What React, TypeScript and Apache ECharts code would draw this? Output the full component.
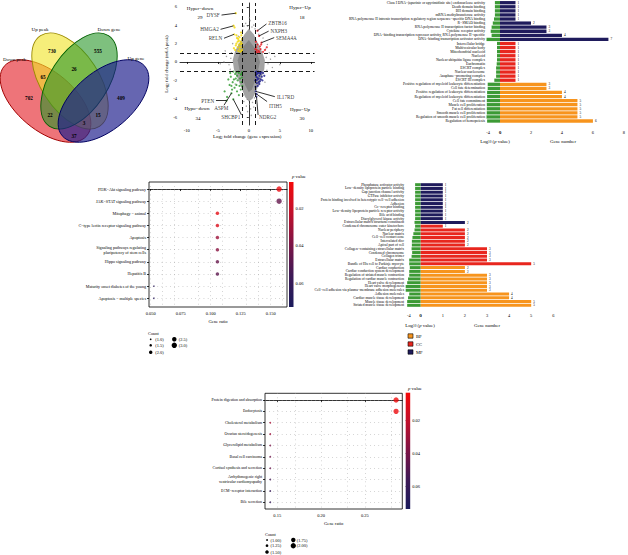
import React, { useEffect, useRef } from "react";
import * as echarts from "echarts";

const FONT = "Liberation Serif";

// ================= Panel A: Venn =================
const vennSetNames = ["Down peak", "Up peak", "Down gene", "Up gene"];
const vennRegionCounts = [702, 730, 555, 409, 65, 26, 15, 22, 3, 37];

// ================= Panel B: volcano =================
const volcanoXTicks = [-10, -5, 0, 5, 10];
const volcanoYTicks = [-6, -4, -2, 0, 2, 4, 6];
const quadrantNames = ["Hyper−down", "Hyper−Up", "Hypo−down", "Hypo−Up"];
const quadrantCounts = [29, 18, 34, 30];
const cloudOuter = [
  [0, 3.6], [0.8, 3.0], [1.5, 2.0], [2.2, 1.0], [2.6, 0.2], [2.5, -0.8], [2.0, -1.8], [1.3, -3.0],
  [0.6, -4.0], [0, -4.3], [-0.6, -3.8], [-1.2, -2.8], [-1.8, -1.8], [-2.4, -0.8], [-2.6, 0.2],
  [-2.2, 1.2], [-1.4, 2.2], [-0.7, 3.0],
];
const cloudInner = [
  [0, 2.4], [1.2, 1.3], [1.8, 0], [1.3, -1.5], [0.5, -3.0], [0, -3.3], [-0.6, -2.5], [-1.4, -1.2],
  [-1.8, 0.2], [-1.2, 1.4],
];
const grayPoints = [
  [0.2, 4.5], [-0.5, 4.2], [0.8, 4.0], [-0.2, 3.9], [1.0, 3.6], [-1.0, 3.5], [0.5, 3.8], [-0.8, 3.9], [0.1, 4.8],
  [2.8, 0.5], [3.1, -0.2], [3.5, 0.3], [2.9, -0.9], [3.3, 1.0], [4.2, 0.6], [5.0, -0.3], [3.8, -0.6], [2.7, 1.4], [3.0, 1.9],
  [-2.9, 0.4], [-3.2, -0.3], [-3.6, 0.6], [-2.8, 1.0], [-4.0, 0.0], [-3.0, -0.8], [-3.8, 1.2], [-4.6, -0.2],
  [0.1, -4.6], [-0.4, -4.8], [0.6, -4.4], [-0.8, -4.3], [0.3, -5.1], [-0.2, -5.4], [0.8, -4.9], [-1.0, -5.0],
  [0.9, -3.9], [-0.9, -3.6], [0.4, -5.8], [2.3, 2.6], [-2.6, 2.0], [2.6, -2.2], [-2.2, -2.4], [1.6, 3.0], [-1.7, 2.8],
];
const hyperDown = [
  [-2.1, 5.3], [-2.45, 3.95], [-2.3, 3.75], [-2.35, 3.0], [-1.2, 1.2], [-1.5, 1.4], [-1.8, 1.6], [-1.3, 1.9],
  [-2.0, 2.0], [-1.6, 2.3], [-1.1, 2.5], [-2.2, 1.3], [-1.4, 1.1], [-1.9, 2.6], [-1.2, 2.9], [-1.7, 1.2],
  [-2.1, 1.8], [-1.05, 1.6], [-1.3, 2.2], [-1.6, 1.9], [-2.4, 1.5], [-1.8, 2.2], [-1.1, 1.3], [-1.5, 2.7],
  [-1.25, 3.2], [-2.0, 2.9], [-1.4, 1.6], [-1.7, 2.5], [-1.15, 2.0],
];
const hyperUp = [
  [1.4, 3.4], [1.66, 2.83], [2.04, 2.1], [1.1, 1.1], [1.3, 1.3], [1.6, 1.2], [1.9, 1.4], [1.2, 1.6], [2.3, 1.1],
  [1.4, 1.9], [1.8, 1.7], [2.6, 1.3], [1.15, 2.2], [1.7, 1.05], [2.0, 1.9], [1.35, 1.05], [2.9, 1.6], [1.05, 1.4],
];
const hypoDown = [
  [-1.1, -1.1], [-1.3, -1.4], [-1.6, -1.2], [-1.9, -1.5], [-2.2, -1.3], [-1.4, -1.8], [-1.8, -2.0], [-2.4, -1.9],
  [-1.2, -2.2], [-2.0, -2.5], [-2.6, -2.2], [-1.5, -2.6], [-2.9, -1.6], [-1.7, -1.05], [-2.3, -2.8], [-1.1, -1.7],
  [-3.1, -2.5], [-2.7, -3.0], [-1.9, -3.2], [-3.9, -3.2], [-1.3, -3.0], [-2.5, -1.05], [-3.3, -1.9], [-1.05, -2.6],
  [-2.1, -1.8], [-1.6, -3.6], [-2.8, -2.6], [-3.5, -3.8], [-2.8, -3.4], [-3.6, -4.2], [-2.5, -4.05], [-1.2, -1.3],
  [-2.0, -1.1], [-3.0, -1.2],
];
const hypoUp = [
  [1.1, -1.1], [1.3, -1.3], [1.5, -1.2], [1.7, -1.5], [1.2, -1.6], [1.9, -1.3], [1.4, -1.9], [1.6, -1.8],
  [2.1, -1.6], [1.05, -2.0], [1.8, -2.1], [1.3, -2.3], [2.3, -1.2], [1.15, -1.4], [1.55, -1.05], [1.95, -1.9],
  [1.25, -1.05], [1.7, -2.4], [1.45, -2.6], [2.0, -1.1], [1.1, -2.7], [1.35, -1.7], [1.8, -1.2], [2.5, -1.5],
  [1.6, -2.2], [1.2, -2.0], [1.13, -3.2], [1.24, -3.48], [1.24, -3.77], [2.2, -2.0],
];
// gene annotations: text anchor (tx,ty), label side, leader line (x1,y1)->(x2,y2)
const geneNames = ["DYSF", "HMGA2", "RELN", "ZBTB16", "NXPH3", "SEMA4A", "PTEN", "ASPM", "SHCBP1", "IL17RD", "ITIH5", "NDRG2"];
const geneTextAnchor = [
  [-4.45, 5.1], [-4.6, 3.55], [-4.05, 2.58], [2.9, 4.2], [3.25, 3.35], [4.15, 2.65],
  [-5.35, -4.2], [-4.44, -5.05], [-1.13, -5.95], [4.3, -3.77], [3.0, -4.8], [1.4, -5.95],
];
const genePos = ["left", "left", "left", "right", "right", "right", "left", "inside", "left", "right", "right", "right"];
const geneLines = [
  [-4.4, 5.1, -2.1, 5.3], [-4.56, 3.55, -2.5, 3.92], [-4.0, 2.58, -2.4, 3.0], [2.85, 4.13, 1.4, 3.4],
  [3.2, 3.35, 1.66, 2.83], [4.1, 2.65, 2.04, 2.1], [-5.3, -4.2, -3.6, -4.2], [-4.0, -4.7, -2.8, -3.4],
  [-1.18, -5.76, -2.5, -4.06], [4.2, -3.77, 1.13, -3.2], [2.95, -4.3, 1.24, -3.48], [1.5, -5.76, 1.24, -3.77],
];

// ================= Panel C: GO (top) =================
const goTopTerms = [
  "Class I DNA−(apurinic or apyrimidinic site) endonuclease activity",
  "Death domain binding",
  "BH domain binding",
  "mRNA methyltransferase activity",
  "RNA polymerase II intronic transcription regulatory region sequence−specific DNA binding",
  "R−SMAD binding",
  "RNA polymerase II transcription factor binding",
  "Cytokine receptor activity",
  "DNA−binding transcription repressor activity, RNA polymerase II−specific",
  "DNA−binding transcription activator activity",
  "Intercellular bridge",
  "Multivesicular body",
  "Mitochondrial nucleoid",
  "Nucleoid",
  "Nuclear ubiquitin ligase complex",
  "Euchromatin",
  "ESCRT complex",
  "Nuclear nucleosome",
  "Anaphase−promoting complex",
  "ESCRT III complex",
  "Positive regulation of myeloid leukocyte differentiation",
  "Cell fate determination",
  "Positive regulation of leukocyte differentiation",
  "Regulation of myeloid leukocyte differentiation",
  "Cell fate commitment",
  "Muscle cell proliferation",
  "Fat cell differentiation",
  "Smooth muscle cell proliferation",
  "Regulation of smooth muscle cell proliferation",
  "Regulation of hemopoiesis",
];
const goTopCats = [
  "MF", "MF", "MF", "MF", "MF", "MF", "MF", "MF", "MF", "MF",
  "CC", "CC", "CC", "CC", "CC", "CC", "CC", "CC", "CC", "CC",
  "BP", "BP", "BP", "BP", "BP", "BP", "BP", "BP", "BP", "BP",
];
const goTopCounts = [1, 1, 1, 1, 1, 2, 3, 3, 4, 7, 1, 1, 1, 1, 1, 1, 1, 1, 1, 1, 3, 3, 4, 4, 5, 5, 5, 5, 5, 6];
const goTopLogP = [
  -1.7, -1.7, -1.7, -1.7, -2.0, -2.4, -2.8, -3.1, -2.8, -4.5,
  -1.0, -1.0, -1.0, -1.0, -1.0, -1.1, -1.3, -1.3, -1.3, -1.9,
  -4.1, -4.1, -4.3, -4.3, -4.4, -4.4, -4.4, -4.4, -4.5, -4.3,
];
const goTopLogTicks = [-4, 0];

// ================= Panel D: KEGG dot plot (middle) =================
const keggMidTerms = [
  "PI3K−Akt signaling pathway",
  "JAK−STAT signaling pathway",
  "Mitophagy − animal",
  "C−type lectin receptor signaling pathway",
  "Apoptosis",
  "Signaling pathways regulating\npluripotency of stem cells",
  "Hippo signaling pathway",
  "Hepatitis B",
  "Maturity onset diabetes of the young",
  "Apoptosis − multiple species",
];
const keggMidRatio = [0.157, 0.157, 0.1056, 0.1056, 0.1056, 0.1056, 0.1056, 0.1056, 0.0526, 0.0526];
const keggMidCount = [3, 3, 2, 2, 2, 2, 2, 2, 1, 1];
const keggMidP = [0.009, 0.046, 0.011, 0.014, 0.031, 0.036, 0.045, 0.048, 0.065, 0.066];
const keggMidXTicks = [0.05, 0.075, 0.1, 0.125, 0.15];
const keggMidPTicks = [0.02, 0.04, 0.06];
const keggMidLegendCounts = [1.0, 1.5, 2.0, 2.5, 3.0];

// ================= Panel E: GO (middle) =================
const goMidTerms = [
  "Phosphatase activator activity",
  "Low−density lipoprotein particle binding",
  "Gap junction channel activity",
  "GTPase inhibitor activity",
  "Protein binding involved in heterotypic cell−cell adhesion",
  "Adhesion",
  "Co−receptor binding",
  "Low−density lipoprotein particle receptor activity",
  "Bile acid binding",
  "Diacylglycerol kinase activity",
  "Extracellular matrix structural constituent",
  "Condensed chromosome outer kinetochore",
  "Nuclear periphery",
  "Nuclear matrix",
  "Cell−cell contact zone",
  "Intercalated disc",
  "Apical part of cell",
  "Collagen−containing extracellular matrix",
  "Condensed chromosome",
  "Collagen trimer",
  "Extracellular matrix",
  "Bundle of His cell to Purkinje myocyte",
  "Cardiac conduction",
  "Cardiac conduction system development",
  "Regulation of striated muscle contraction",
  "Regulation of cardiac muscle contraction",
  "Heart valve development",
  "Heart valve morphogenesis",
  "Cell−cell adhesion via plasma−membrane adhesion molecules",
  "Adhesion molecules",
  "Cardiac muscle tissue development",
  "Muscle tissue development",
  "Striated muscle tissue development",
];
const goMidCats = [
  "MF", "MF", "MF", "MF", "MF", "MF", "MF", "MF", "MF", "MF", "MF",
  "CC", "CC", "CC", "CC", "CC", "CC", "CC", "CC", "CC", "CC", "CC",
  "BP", "BP", "BP", "BP", "BP", "BP", "BP", "BP", "BP", "BP", "BP",
];
const goMidCounts = [1, 1, 1, 1, 1, 1, 1, 1, 1, 1, 2, 1, 2, 2, 2, 2, 2, 3, 3, 3, 3, 5, 2, 2, 3, 3, 3, 3, 3, 4, 4, 5, 5];
const goMidLogP = [
  -1.9, -1.9, -1.9, -1.9, -1.9, -1.9, -1.9, -1.9, -1.9, -1.9, -2.1,
  -1.9, -2.1, -2.5, -2.8, -3.0, -3.0, -3.1, -2.9, -3.1, -3.9, -3.9,
  -3.7, -3.9, -3.9, -4.3, -4.6, -5.1, -5.1, -3.9, -4.3, -4.6, -4.6,
];
const goMidLogTicks = [-4, 0];
const goLegendCats = ["BP", "CC", "MF"];

// ================= Panel F: KEGG dot plot (bottom) =================
const keggBotTerms = [
  "Protein digestion and absorption",
  "Endocytosis",
  "Cholesterol metabolism",
  "Ovarian steroidogenesis",
  "Glycerolipid metabolism",
  "Basal cell carcinoma",
  "Cortisol synthesis and secretion",
  "Arrhythmogenic right\nventricular cardiomyopathy",
  "ECM−receptor interaction",
  "Bile secretion",
];
const keggBotRatio = [0.2856, 0.2856, 0.142, 0.142, 0.142, 0.142, 0.142, 0.142, 0.142, 0.142];
const keggBotCount = [2, 2, 1, 1, 1, 1, 1, 1, 1, 1];
const keggBotP = [0.005, 0.006, 0.028, 0.031, 0.040, 0.043, 0.045, 0.055, 0.060, 0.062];
const keggBotXTicks = [0.15, 0.2, 0.25];
const keggBotPTicks = [0.02, 0.04, 0.06];
const keggBotLegendCounts = [1.0, 1.25, 1.5, 1.75, 2.0];

// ================= styling =================
const catColor: Record<string, string> = { BP: "#f7941d", CC: "#e8261e", MF: "#1f1b5c" };
const greenBar = "#3c9a35";
const pColors = ["#f40a0a", "#c0102c", "#7c1446", "#3e1a56", "#1b1b5c"];

function txt(size: number, extra: any = {}) {
  return { fontFamily: FONT, fontSize: size, color: "#000", ...extra };
}
function gText(x: number, y: number, text: string, size: number, extra: any = {}) {
  return {
    type: "text",
    x,
    y,
    silent: true,
    style: {
      text,
      fontFamily: FONT,
      fontSize: size,
      fill: "#000",
      textAlign: extra.align || "center",
      textVerticalAlign: "middle",
      align: extra.align || "center",
      verticalAlign: "middle",
      fontWeight: extra.weight || "normal",
      rich: extra.rich,
    },
  };
}
const subRich = (size: number) => ({
  s: { fontFamily: FONT, fontSize: size * 0.7, padding: [size * 0.55, 0, 0, 0] },
  i: { fontFamily: FONT, fontSize: size, fontStyle: "italic" },
});

function midSize(c: number) {
  return 1.6 + (c - 1) * 1.9;
}
function botSize(c: number) {
  return 1.8 + (c - 1) * 3.5;
}

function buildOption() {
  const grid: any[] = [];
  const xAxis: any[] = [];
  const yAxis: any[] = [];
  const series: any[] = [];
  const graphic: any[] = [];
  const visualMap: any[] = [];

  // ---------- Venn ----------
  const vennLayout = [
    { x: 45.5, y: 101, rot: -0.7, fill: "rgba(228,30,38,0.62)", stroke: "#a00000" },
    { x: 70, y: 81, rot: -0.995, fill: "rgba(240,228,40,0.62)", stroke: "#9a8a00" },
    { x: 79, y: 81, rot: 0.995, fill: "rgba(40,150,40,0.6)", stroke: "#006000" },
    { x: 103.5, y: 101, rot: 0.7, fill: "rgba(30,30,140,0.68)", stroke: "#000060" },
  ];
  vennLayout.forEach((e) => {
    graphic.push({
      type: "ellipse",
      x: e.x,
      y: e.y,
      rotation: e.rot,
      silent: true,
      shape: { cx: 0, cy: 0, rx: 54, ry: 29 },
      style: { fill: e.fill, stroke: e.stroke, lineWidth: 0.9 },
    });
  });
  const vennLabelPos = [[14.5, 59], [40, 29], [109, 29], [136, 58]];
  vennSetNames.forEach((n, i) => graphic.push(gText(vennLabelPos[i][0], vennLabelPos[i][1], n, 5)));
  const vennCountPos = [[29, 98], [52, 51], [98, 51], [121, 98], [43, 77], [74, 69], [98, 115], [50, 115], [84, 123], [74, 136]];
  vennRegionCounts.forEach((c, i) =>
    graphic.push(gText(vennCountPos[i][0], vennCountPos[i][1], String(c), 5.2, { weight: "bold" }))
  );

  // ---------- Volcano (grid 0) ----------
  grid.push({ left: 180, top: 3, width: 134.5, height: 122 });
  xAxis.push({
    gridIndex: 0, type: "value", min: -11.1, max: 10.6,
    axisLine: { lineStyle: { color: "#000", width: 0.8 } },
    axisTick: { customValues: volcanoXTicks, length: 2, lineStyle: { color: "#000", width: 0.8 } },
    axisLabel: { customValues: volcanoXTicks, ...txt(4.6), margin: 3 },
    splitLine: { show: false },
    name: "Log{s|2} fold change (gene expression)",
    nameLocation: "middle", nameGap: 9,
    nameTextStyle: { ...txt(4.8), rich: subRich(4.8) },
  });
  yAxis.push({
    gridIndex: 0, type: "value", min: -6.85, max: 6.41,
    axisLine: { lineStyle: { color: "#000", width: 0.8 } },
    axisTick: { customValues: volcanoYTicks, length: 2, lineStyle: { color: "#000", width: 0.8 } },
    axisLabel: { customValues: volcanoYTicks, ...txt(4.6), margin: 3 },
    splitLine: { show: false },
    name: "Log{s|2} fold change (m6A peak)",
    nameLocation: "middle", nameGap: 11, nameRotate: 90,
    nameTextStyle: { ...txt(4.8), rich: subRich(4.8) },
  });
  series.push({
    type: "custom", xAxisIndex: 0, yAxisIndex: 0, data: [[0, 0]], silent: true, z: 1,
    renderItem: (_p: any, api: any) => ({
      type: "group",
      children: [
        { type: "polygon", shape: { points: cloudOuter.map((p) => api.coord(p)) }, style: { fill: "#a3a3a3" } },
        { type: "polygon", shape: { points: cloudInner.map((p) => api.coord(p)) }, style: { fill: "#858585" } },
      ],
    }),
  });
  series.push({
    type: "scatter", xAxisIndex: 0, yAxisIndex: 0, data: grayPoints, symbolSize: 1.4, z: 2,
    itemStyle: { color: "#8a8a8a" }, silent: true,
    markLine: {
      silent: true, symbol: ["none", "none"], label: { show: false },
      lineStyle: { color: "#000", width: 0.9, type: [4, 3] },
      data: [{ xAxis: -1 }, { xAxis: 1 }, { yAxis: -1 }, { yAxis: 1 }],
    },
  });
  const volGroups: [number[][], string][] = [
    [hyperDown, "#f2d600"], [hyperUp, "#e8141c"], [hypoDown, "#2e9a2e"], [hypoUp, "#1a1a8c"],
  ];
  volGroups.forEach(([d, c]) =>
    series.push({ type: "scatter", xAxisIndex: 0, yAxisIndex: 0, data: d, symbolSize: 2.2, z: 3, itemStyle: { color: c }, silent: true })
  );
  series.push({
    type: "lines", coordinateSystem: "cartesian2d", xAxisIndex: 0, yAxisIndex: 0, silent: true, z: 4,
    lineStyle: { color: "#000", width: 0.8, opacity: 1 },
    data: geneLines.map((l) => ({ coords: [[l[0], l[1]], [l[2], l[3]]] })),
  });
  series.push({
    type: "scatter", xAxisIndex: 0, yAxisIndex: 0, silent: true, z: 5, symbolSize: 1,
    itemStyle: { color: "rgba(0,0,0,0)" },
    data: geneNames.map((n, i) => ({
      name: n, value: geneTextAnchor[i],
      label: { show: true, position: genePos[i], distance: 1, formatter: "{b}", ...txt(5.2) },
    })),
  });
  const qPos = [[200, 8, 200, 17], [300, 7, 302, 17], [197, 108, 198, 118], [300, 109, 302, 118]];
  quadrantNames.forEach((n, i) => {
    graphic.push(gText(qPos[i][0], qPos[i][1], n, 5));
    graphic.push(gText(qPos[i][2], qPos[i][3], String(quadrantCounts[i]), 5));
  });

  // ---------- GO top (grids 1,2) ----------
  const topTop = 0.66, topH = 122.4;
  grid.push({ left: 486.5, top: topTop, width: 13.5, height: topH });
  grid.push({ left: 500, top: topTop, width: 126.4, height: topH });
  xAxis.push({
    gridIndex: 1, type: "value", min: -4.5, max: 0, offset: 2,
    axisLine: { lineStyle: { color: "#000", width: 0.8 } },
    axisTick: { customValues: goTopLogTicks, length: 3, lineStyle: { color: "#000", width: 0.8 } },
    axisLabel: { customValues: goTopLogTicks, ...txt(4.4), margin: 5 },
    splitLine: { show: false },
  });
  xAxis.push({
    gridIndex: 2, type: "value", min: 0, max: 8, interval: 2, offset: 2,
    axisLine: { lineStyle: { color: "#000", width: 0.8 } },
    axisTick: { length: 3, lineStyle: { color: "#000", width: 0.8 } },
    axisLabel: { ...txt(4.4), margin: 5 },
    splitLine: { show: false },
  });
  yAxis.push({
    gridIndex: 1, type: "category", inverse: true, data: goTopTerms,
    axisLine: { show: false }, axisTick: { show: false },
    axisLabel: { ...txt(3.7), margin: 1.5, interval: 0 },
  });
  yAxis.push({
    gridIndex: 2, type: "category", inverse: true, data: goTopTerms,
    axisLine: { show: false }, axisTick: { show: false }, axisLabel: { show: false },
  });
  series.push({
    type: "bar", xAxisIndex: 1, yAxisIndex: 1, data: goTopLogP, barWidth: 3.3, silent: true,
    itemStyle: { color: greenBar },
  });
  series.push({
    type: "bar", xAxisIndex: 2, yAxisIndex: 2, barWidth: 3.3, silent: true,
    data: goTopCounts.map((v, i) => ({ value: v, itemStyle: { color: catColor[goTopCats[i]] } })),
    label: { show: true, position: "right", distance: 2, ...txt(3.4) },
  });
  graphic.push(gText(495, 141, "Log{s|10} ({i|p} value)", 4.8, { rich: subRich(4.8) }));
  graphic.push(gText(563, 141, "Gene number", 4.8));

  // ---------- KEGG middle dot plot (grid 3) + colorbar (grid 4) ----------
  grid.push({ left: 149, top: 182, width: 138, height: 125, show: true, borderColor: "#000", borderWidth: 0.8, backgroundColor: "transparent" });
  xAxis.push({
    gridIndex: 3, type: "value", min: 0.04858, max: 0.16358,
    axisLine: { lineStyle: { color: "#000", width: 0.8 } },
    axisTick: { customValues: keggMidXTicks, length: 2, lineStyle: { color: "#000", width: 0.8 } },
    axisLabel: { customValues: keggMidXTicks, formatter: (v: number) => v.toFixed(3), ...txt(4.5), margin: 4 },
    splitLine: { show: false },
    name: "Gene ratio", nameLocation: "middle", nameGap: 11.5, nameTextStyle: txt(4.6),
  });
  const midRows = keggMidTerms.map((_, i) => i);
  yAxis.push({
    gridIndex: 3, type: "value", inverse: true, min: -0.58, max: 9.72,
    axisLine: { show: false },
    axisTick: { show: true, customValues: midRows, length: 2, lineStyle: { color: "#000", width: 0.8 } },
    axisLabel: { customValues: midRows, formatter: (v: number) => keggMidTerms[Math.round(v)], ...txt(4.1), lineHeight: 4.6, margin: 3 },
    splitLine: { show: false },
  });
  const midMinor: number[] = [0.05, 0.0625, 0.075, 0.0875, 0.1, 0.1125, 0.125, 0.1375, 0.15, 0.1625];
  const midDotIndex = series.length;
  series.push({
    type: "scatter", xAxisIndex: 3, yAxisIndex: 3, silent: true, z: 3,
    data: keggMidTerms.map((_, i) => [keggMidRatio[i], i, keggMidCount[i], keggMidP[i]]),
    symbolSize: (v: number[]) => midSize(v[2]),
    markLine: {
      silent: true, symbol: ["none", "none"], label: { show: false }, z: 1,
      lineStyle: { color: "#9a9a9a", width: 0.6, type: [0.7, 3.5] },
      data: [...midRows.map((r) => ({ yAxis: r })), ...midMinor.map((x) => ({ xAxis: x }))],
    },
  });
  visualMap.push({
    type: "continuous", show: false, seriesIndex: midDotIndex, dimension: 3,
    min: 0.0061, max: 0.0728, inRange: { color: pColors },
  });
  grid.push({ left: 289, top: 182, width: 4.5, height: 125 });
  xAxis.push({ gridIndex: 4, type: "value", min: 0, max: 1, show: false });
  yAxis.push({
    gridIndex: 4, type: "value", position: "right", inverse: true, min: 0.0061, max: 0.0728,
    axisLine: { show: false },
    axisTick: { customValues: keggMidPTicks, length: 2, lineStyle: { color: "#000", width: 0.8 } },
    axisLabel: { customValues: keggMidPTicks, formatter: (v: number) => v.toFixed(2), ...txt(4.5), margin: 2 },
    splitLine: { show: false },
  });
  const cbRender = (_p: any, api: any) => {
    const cs = _p.coordSys;
    return {
      type: "rect",
      shape: { x: cs.x, y: cs.y, width: cs.width, height: cs.height },
      style: {
        fill: new echarts.graphic.LinearGradient(0, 0, 0, 1,
          pColors.map((c, i) => ({ offset: i / (pColors.length - 1), color: c }))),
      },
    };
  };
  series.push({ type: "custom", xAxisIndex: 4, yAxisIndex: 4, data: [[0.5, 0.04]], silent: true, renderItem: cbRender });
  graphic.push(gText(299, 176, "{i|p} value", 4.8, { rich: subRich(4.8) }));
  // Count legend (middle)
  graphic.push(gText(148, 333, "Count", 4.4, { align: "left" }));
  const midLegPos = [[150.7, 339.3], [150.7, 345.3], [150.7, 352.3], [174.3, 339.3], [174.3, 345.3]];
  keggMidLegendCounts.forEach((c, i) => {
    graphic.push({ type: "circle", x: midLegPos[i][0], y: midLegPos[i][1], silent: true, shape: { r: midSize(c) / 2 }, style: { fill: "#000" } });
    graphic.push(gText(midLegPos[i][0] + 4.5, midLegPos[i][1], "(" + c.toFixed(1) + ")", 4.4, { align: "left" }));
  });

  // ---------- GO middle (grids 5,6) ----------
  const midTop = 182.8, midH = 124.4;
  grid.push({ left: 405.1, top: midTop, width: 15.6, height: midH });
  grid.push({ left: 420.7, top: midTop, width: 132.6, height: midH });
  xAxis.push({
    gridIndex: 5, type: "value", min: -5.3, max: 0, offset: 2,
    axisLine: { lineStyle: { color: "#000", width: 0.8 } },
    axisTick: { customValues: goMidLogTicks, length: 2.5, lineStyle: { color: "#000", width: 0.8 } },
    axisLabel: { customValues: goMidLogTicks, ...txt(4.4), margin: 4 },
    splitLine: { show: false },
  });
  xAxis.push({
    gridIndex: 6, type: "value", min: 0, max: 6, interval: 1, offset: 2,
    axisLine: { lineStyle: { color: "#000", width: 0.8 } },
    axisTick: { length: 2.5, lineStyle: { color: "#000", width: 0.8 } },
    axisLabel: { ...txt(4.4), margin: 4 },
    splitLine: { show: false },
  });
  yAxis.push({
    gridIndex: 5, type: "category", inverse: true, data: goMidTerms,
    axisLine: { show: false }, axisTick: { show: false },
    axisLabel: { ...txt(3.6), margin: 1, interval: 0 },
  });
  yAxis.push({
    gridIndex: 6, type: "category", inverse: true, data: goMidTerms,
    axisLine: { show: false }, axisTick: { show: false }, axisLabel: { show: false },
  });
  series.push({
    type: "bar", xAxisIndex: 5, yAxisIndex: 5, data: goMidLogP, barWidth: 3.0, silent: true,
    itemStyle: { color: greenBar },
  });
  series.push({
    type: "bar", xAxisIndex: 6, yAxisIndex: 6, barWidth: 3.0, silent: true,
    data: goMidCounts.map((v, i) => ({ value: v, itemStyle: { color: catColor[goMidCats[i]] } })),
    label: { show: true, position: "right", distance: 2, ...txt(3.3) },
  });
  graphic.push(gText(420, 325, "Log{s|10} ({i|p} value)", 4.8, { rich: subRich(4.8) }));
  graphic.push(gText(487, 325, "Gene number", 4.8));
  const goLegY = [336, 344, 352];
  goLegendCats.forEach((c, i) => {
    graphic.push({ type: "rect", x: 408, y: goLegY[i] - 2.2, silent: true, shape: { width: 5, height: 4.4 }, style: { fill: catColor[c], stroke: "#000", lineWidth: 0.6 } });
    graphic.push(gText(416, goLegY[i], c, 4.6, { align: "left" }));
  });

  // ---------- KEGG bottom dot plot (grid 7) + colorbar (grid 8) ----------
  grid.push({ left: 265, top: 393.3, width: 137.3, height: 115.7, show: true, borderColor: "#000", borderWidth: 0.8, backgroundColor: "transparent" });
  xAxis.push({
    gridIndex: 7, type: "value", min: 0.136, max: 0.2927,
    axisLine: { lineStyle: { color: "#000", width: 0.8 } },
    axisTick: { customValues: keggBotXTicks, length: 2, lineStyle: { color: "#000", width: 0.8 } },
    axisLabel: { customValues: keggBotXTicks, formatter: (v: number) => v.toFixed(2), ...txt(4.5), margin: 4 },
    splitLine: { show: false },
    name: "Gene ratio", nameLocation: "middle", nameGap: 11.5, nameTextStyle: txt(4.6),
  });
  const botRows = keggBotTerms.map((_, i) => i);
  yAxis.push({
    gridIndex: 7, type: "value", inverse: true, min: -0.59, max: 9.59,
    axisLine: { show: false },
    axisTick: { show: true, customValues: botRows, length: 2, lineStyle: { color: "#000", width: 0.8 } },
    axisLabel: { customValues: botRows, formatter: (v: number) => keggBotTerms[Math.round(v)], ...txt(3.9), lineHeight: 4.3, margin: 3 },
    splitLine: { show: false },
  });
  const botMinor: number[] = [0.15, 0.175, 0.2, 0.225, 0.25, 0.275];
  const botDotIndex = series.length;
  series.push({
    type: "scatter", xAxisIndex: 7, yAxisIndex: 7, silent: true, z: 3,
    data: keggBotTerms.map((_, i) => [keggBotRatio[i], i, keggBotCount[i], keggBotP[i]]),
    symbolSize: (v: number[]) => botSize(v[2]),
    markLine: {
      silent: true, symbol: ["none", "none"], label: { show: false }, z: 1,
      lineStyle: { color: "#9a9a9a", width: 0.6, type: [0.7, 3.5] },
      data: [...botRows.map((r) => ({ yAxis: r })), ...botMinor.map((x) => ({ xAxis: x }))],
    },
  });
  visualMap.push({
    type: "continuous", show: false, seriesIndex: botDotIndex, dimension: 3,
    min: 0.0032, max: 0.074, inRange: { color: pColors },
  });
  grid.push({ left: 405.7, top: 392.7, width: 4.5, height: 116.3 });
  xAxis.push({ gridIndex: 8, type: "value", min: 0, max: 1, show: false });
  yAxis.push({
    gridIndex: 8, type: "value", position: "right", inverse: true, min: 0.0032, max: 0.074,
    axisLine: { show: false },
    axisTick: { customValues: keggBotPTicks, length: 2, lineStyle: { color: "#000", width: 0.8 } },
    axisLabel: { customValues: keggBotPTicks, formatter: (v: number) => v.toFixed(2), ...txt(4.5), margin: 2 },
    splitLine: { show: false },
  });
  series.push({ type: "custom", xAxisIndex: 8, yAxisIndex: 8, data: [[0.5, 0.04]], silent: true, renderItem: cbRender });
  graphic.push(gText(415, 388, "{i|p} value", 4.8, { rich: subRich(4.8) }));
  graphic.push(gText(265, 534, "Count", 4.4, { align: "left" }));
  const botLegPos = [[267, 540], [267, 545.7], [267, 552], [293.3, 540], [293.3, 545.7]];
  keggBotLegendCounts.forEach((c, i) => {
    graphic.push({ type: "circle", x: botLegPos[i][0], y: botLegPos[i][1], silent: true, shape: { r: botSize(c) / 2 }, style: { fill: "#000" } });
    graphic.push(gText(botLegPos[i][0] + 3.5, botLegPos[i][1], "(" + c.toFixed(2) + ")", 4.4, { align: "left" }));
  });

  return {
    animation: false,
    backgroundColor: "#fff",
    textStyle: { fontFamily: FONT },
    grid, xAxis, yAxis, series, visualMap, graphic,
  };
}

export default function App() {
  const ref = useRef<HTMLDivElement>(null);
  useEffect(() => {
    const chart = echarts.init(ref.current!, null, { renderer: "svg" });
    chart.setOption(buildOption() as any);
    return () => chart.dispose();
  }, []);
  return (
    <div
      ref={ref}
      style={{ position: "fixed", left: 0, top: 0, width: 628, height: 555, background: "#fff" }}
    />
  );
}
